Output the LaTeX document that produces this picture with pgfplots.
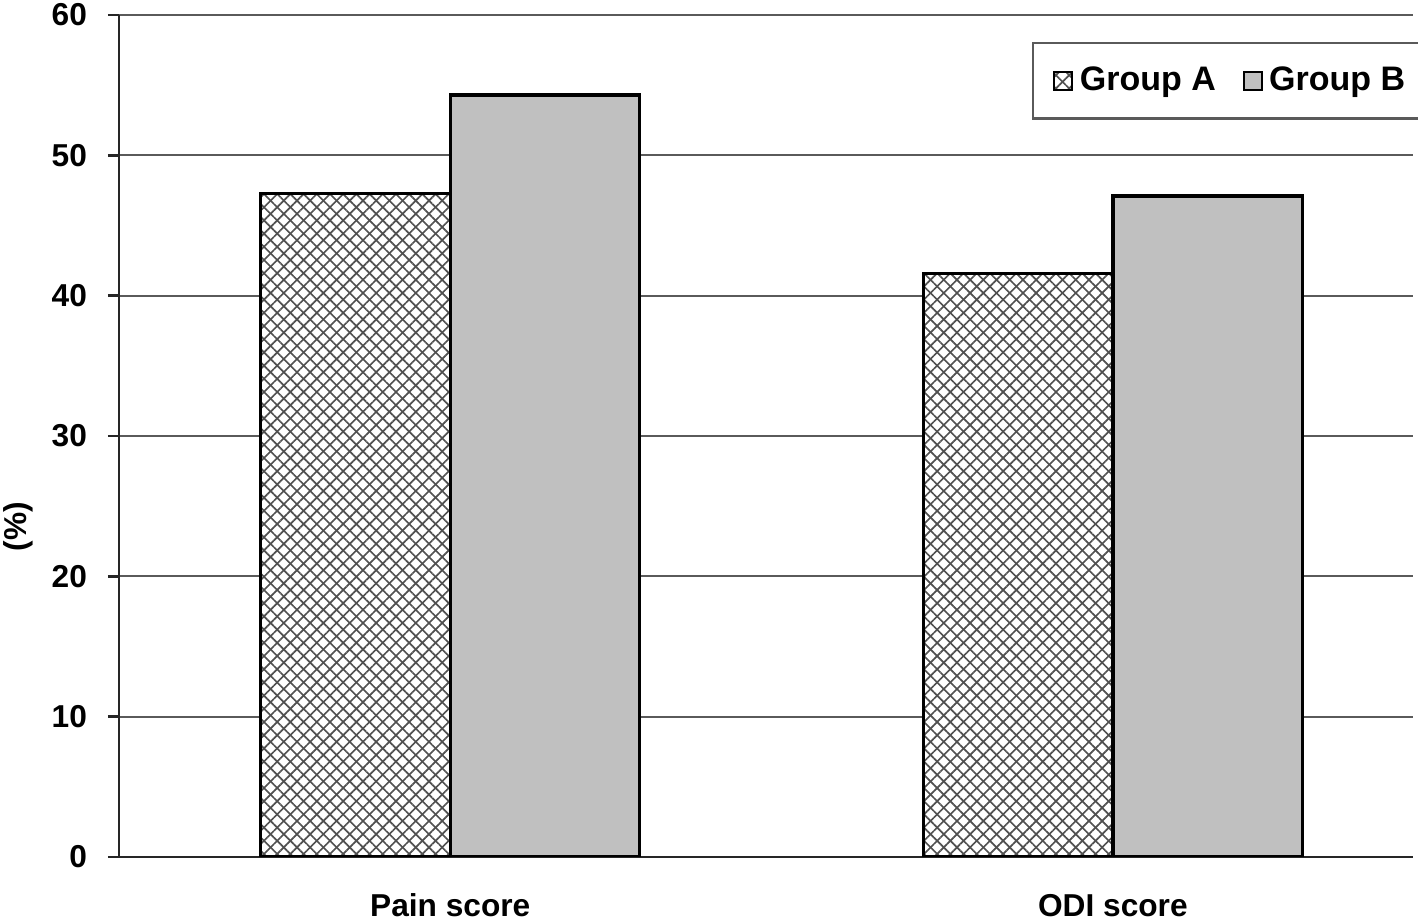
\documentclass[border=0pt]{standalone}
\usepackage{fontspec}
\setmainfont{Liberation Sans}
\usepackage{pgfplots}
\pgfplotsset{compat=1.18}
\usetikzlibrary{patterns.meta}
\definecolor{barB}{HTML}{C0C0C0}
\definecolor{gridc}{HTML}{5A5A5A}
\definecolor{hatchc}{HTML}{505050}

\begin{document}
\begin{tikzpicture}[font=\bfseries\fontsize{9.5}{11}\selectfont]
\begin{axis}[
  scale only axis,
  width=388.2pt, height=252.6pt,
  xmin=-0.5, xmax=1.453,
  ymin=0, ymax=60,
  ytick={0,10,20,30,40,50,60},
  xtick={0,1},
  xticklabels={Pain score,ODI score},
  xtick style={draw=none},
  xticklabel style={anchor=base, yshift=-14.6pt},
  yticklabel style={anchor=east, xshift=-2.8pt},
  /pgf/number format/assume math mode=true,
  tick align=outside,
  major tick length=3.3pt,
  ybar=0pt, bar width=0.286,
  ymajorgrids,
  grid style={gridc, line width=0.6pt},
  axis x line*=bottom, axis y line*=left,
  axis line style={-, black!85, line width=0.8pt},
  tick style={black!85, line width=0.8pt},
  ylabel={(\%)},
  ylabel style={at={(axis description cs:-0.078,0.392)}, anchor=center},
  legend style={at={(axis description cs:0.7056,0.968)}, anchor=north west,
    draw=gridc, line width=0.7pt, fill=white, legend columns=2,
    font=\bfseries\fontsize{10.2}{12}\selectfont,
    inner xsep=6pt, inner ysep=5pt,
    /tikz/every even column/.append style={column sep=6pt}},
  legend image code/.code={\draw[#1, line width=0.6pt] (0pt,-2.7pt) rectangle (5.4pt,2.7pt);},
]
\addplot[draw=black, line width=1pt, fill=white,
  postaction={pattern={Lines[angle=45,distance=2.8pt,line width=0.5pt]}, pattern color=hatchc},
  postaction={pattern={Lines[angle=-45,distance=2.8pt,line width=0.5pt]}, pattern color=hatchc}]
  coordinates {(0,47.3) (1,41.6)};
\addlegendentry{Group A}
\addplot[draw=black, line width=1pt, fill=barB]
  coordinates {(0,54.3) (1,47.1)};
\addlegendentry{Group B}
\draw[black!85, line width=0.8pt] (axis cs:0.5,0) -- ++(0pt,-3pt);
\coordinate (sw) at (rel axis cs:0,0);
\coordinate (ne) at (rel axis cs:1,1);
\end{axis}
\pgfresetboundingbox
\path[use as bounding box] ([shift={(-35.7pt,-18.9pt)}]sw) rectangle ([shift={(1.5pt,4.5pt)}]ne);
\end{tikzpicture}
\end{document}
